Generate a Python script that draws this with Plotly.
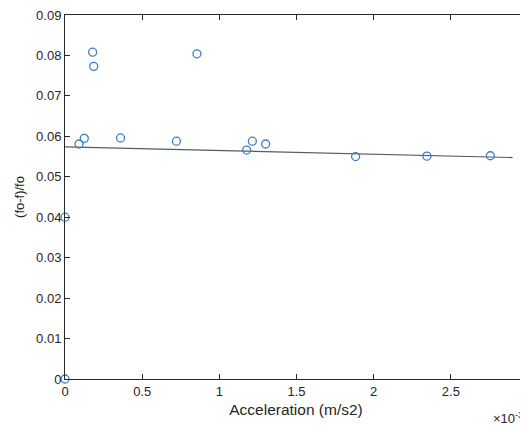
import plotly.graph_objects as go

# Acceleration in units of 1e-3 m/s2
accel = [0.0, 0.0, 0.091, 0.125, 0.179, 0.186, 0.360, 0.722, 0.855,
         1.177, 1.214, 1.300, 1.883, 2.345, 2.756]
ratio = [0.0, 0.0400, 0.0581, 0.0595, 0.0808, 0.0773, 0.0596, 0.0588, 0.0804,
         0.0566, 0.0588, 0.0581, 0.0550, 0.0551, 0.0552]

# Fitted trend line endpoints
fit_x = [0.0, 2.90]
fit_y = [0.0574, 0.05475]

x_ticks = [0, 0.5, 1, 1.5, 2, 2.5]
y_ticks = [0, 0.01, 0.02, 0.03, 0.04, 0.05, 0.06, 0.07, 0.08, 0.09]

FONT = "Liberation Sans, Arial, sans-serif"
AX = "#262626"

fig = go.Figure()
fig.add_trace(go.Scatter(x=fit_x, y=fit_y, mode="lines",
                         line=dict(color="#5a5a5a", width=1.2),
                         showlegend=False, hoverinfo="skip"))
fig.add_trace(go.Scatter(x=accel, y=ratio, mode="markers",
                         marker=dict(symbol="circle-open", size=8,
                                     color="#3f7cc6", line=dict(width=1.3)),
                         cliponaxis=False, showlegend=False))

# page body has an 8px margin; figure spans page px 8..528 x 8..432
OFF = 8
W, H = 528 - OFF, 432 - OFF
L, R, T, B = 65 - OFF, 0, 12 - OFF, 432 - 379
pw = W - L - R
ph = H - T - B
xmax = 3 * pw / (pw + 1)

fig.update_layout(
    width=W, height=H,
    margin=dict(l=L, r=R, t=T, b=B),
    paper_bgcolor="white", plot_bgcolor="white",
    font=dict(family=FONT, size=13, color=AX),
    xaxis=dict(range=[0, xmax], tickvals=x_ticks, ticks="inside", ticklen=5,
               tickcolor=AX, showline=True, linecolor=AX, linewidth=1,
               mirror="ticks", showgrid=False, zeroline=False,
               ticklabeloverflow="allow",
               tickfont=dict(size=13, color=AX),
               title=dict(text="Acceleration (m/s2)", font=dict(size=15.5, color=AX),
                          standoff=6)),
    yaxis=dict(range=[0, 0.09], tickvals=y_ticks, ticks="inside", ticklen=5,
               tickcolor=AX, showline=True, linecolor=AX, linewidth=1,
               mirror="ticks", showgrid=False, zeroline=False,
               ticklabeloverflow="allow",
               tickfont=dict(size=13, color=AX),
               title=dict(text="(fo-f)/fo", font=dict(size=13, color=AX),
                          standoff=8)),
)

# tick label "3" at the clipped right edge and the exponent label
fig.add_annotation(x=1 + 1 / pw, y=-16 / ph, xref="paper", yref="paper",
                   text="3", showarrow=False, xanchor="center", yanchor="middle",
                   font=dict(size=13, color=AX))
fig.add_annotation(x=(492 - 65) / pw, y=-(418 - 379) / ph,
                   xref="paper", yref="paper",
                   text="×10<sup>-3</sup>", showarrow=False, xanchor="left",
                   yanchor="middle", font=dict(size=13, color=AX))

fig.write_html("out.html")
